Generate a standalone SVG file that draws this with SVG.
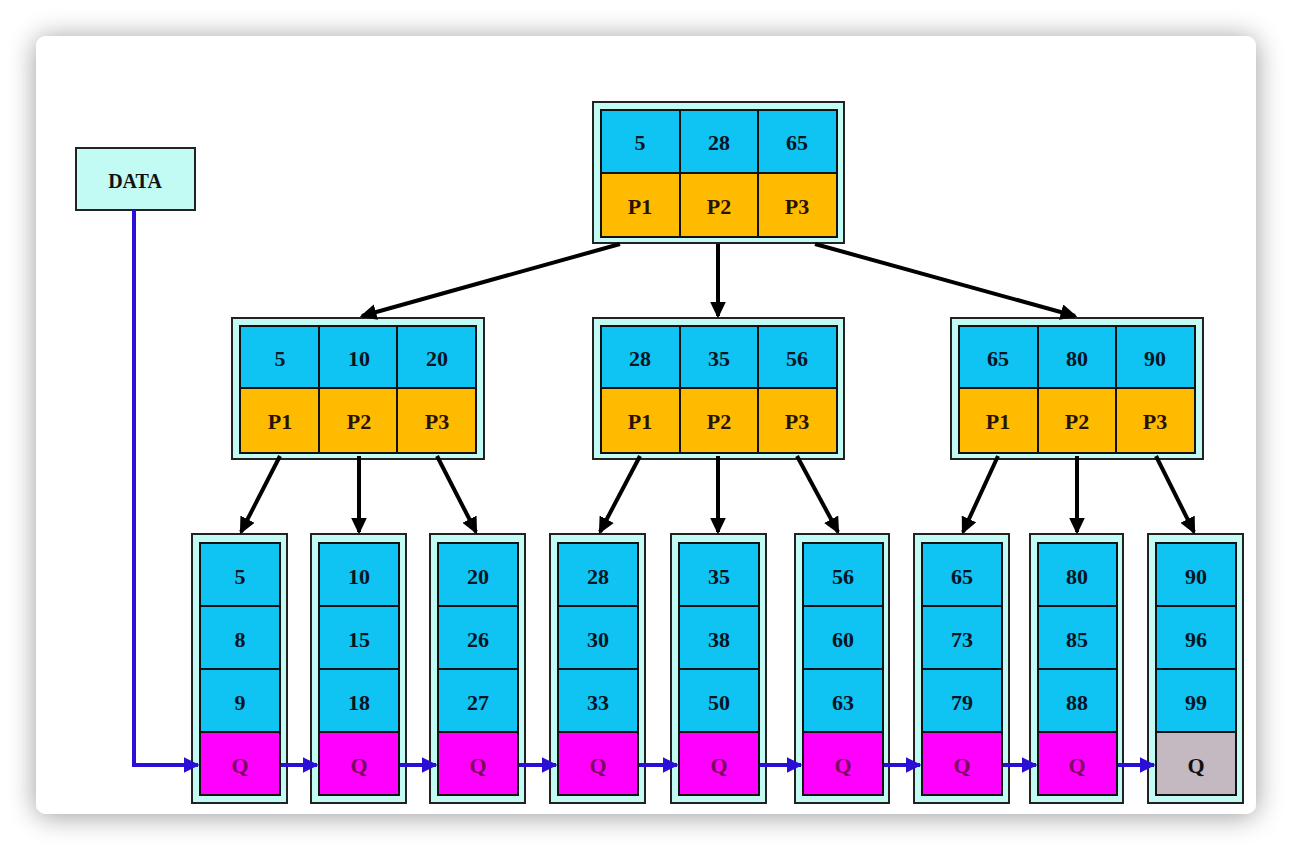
<svg xmlns="http://www.w3.org/2000/svg" width="1292" height="850" viewBox="0 0 1292 850">
<defs>
<filter id="sh" x="-10%" y="-10%" width="120%" height="120%">
<feGaussianBlur in="SourceAlpha" stdDeviation="14"/>
<feOffset dx="0" dy="2"/>
<feComponentTransfer><feFuncA type="linear" slope="0.4"/></feComponentTransfer>
<feMerge><feMergeNode/><feMergeNode in="SourceGraphic"/></feMerge>
</filter>
<marker id="ah" markerWidth="4.2" markerHeight="4" refX="3.6" refY="2" orient="auto" markerUnits="strokeWidth">
<path d="M0,0 L4.2,2 L0,4 z" fill="#000"/>
</marker>
<marker id="bh" markerWidth="4" markerHeight="4" refX="3.6" refY="2" orient="auto" markerUnits="strokeWidth">
<path d="M0,0 L4,2 L0,4 z" fill="#2a0fd6"/>
</marker>
</defs>
<style>
.outer{fill:#c2fbf4;stroke:#222;stroke-width:2}
.k{fill:#0fc3f2;stroke:#111;stroke-width:2}
.p{fill:#ffbb00;stroke:#111;stroke-width:2}
.q{fill:#ff00ff;stroke:#111;stroke-width:2}
.g{fill:#c4b9c0;stroke:#111;stroke-width:2}
.data{fill:#c2fbf4;stroke:#222;stroke-width:2}
text{font-family:"Liberation Serif","DejaVu Serif",serif;font-weight:bold;font-size:22px;text-anchor:middle;dominant-baseline:central;fill:#061424}
.pt{fill:#2a1200}
.qt{fill:#7a0a60}
.gt{fill:#111}
.ar{stroke:#000;stroke-width:4;fill:none;marker-end:url(#ah)}
.bl{stroke:#2a0fd6;stroke-width:4;fill:none;marker-end:url(#bh)}
</style>
<rect x="0" y="0" width="1292" height="850" fill="#ffffff"/>
<rect x="36" y="36" width="1220" height="778" rx="10" fill="#ffffff" filter="url(#sh)"/>

<g id="data">
<rect class="data" x="76" y="148" width="119" height="62"/>
<text x="135" y="181" style="fill:#111;font-size:20px">DATA</text>
</g>

<g id="root">
<rect class="outer" x="593" y="102" width="251" height="141"/>
<rect class="k" x="601" y="110" width="79" height="63"/><rect class="k" x="680" y="110" width="78" height="63"/><rect class="k" x="758" y="110" width="79" height="63"/>
<rect class="p" x="601" y="173" width="79" height="64"/><rect class="p" x="680" y="173" width="78" height="64"/><rect class="p" x="758" y="173" width="79" height="64"/>
<text x="640" y="142">5</text><text x="719" y="142">28</text><text x="797" y="142">65</text>
<text class="pt" x="640" y="206">P1</text><text class="pt" x="719" y="206">P2</text><text class="pt" x="797" y="206">P3</text>
</g>

<g id="n1">
<rect class="outer" x="232" y="318" width="252" height="141"/>
<rect class="k" x="240" y="326" width="79" height="62"/><rect class="k" x="319" y="326" width="78" height="62"/><rect class="k" x="397" y="326" width="79" height="62"/>
<rect class="p" x="240" y="388" width="79" height="65"/><rect class="p" x="319" y="388" width="78" height="65"/><rect class="p" x="397" y="388" width="79" height="65"/>
<text x="280" y="358">5</text><text x="359" y="358">10</text><text x="437" y="358">20</text>
<text class="pt" x="280" y="421">P1</text><text class="pt" x="359" y="421">P2</text><text class="pt" x="437" y="421">P3</text>
</g>

<g id="n2">
<rect class="outer" x="593" y="318" width="251" height="141"/>
<rect class="k" x="601" y="326" width="79" height="62"/><rect class="k" x="680" y="326" width="78" height="62"/><rect class="k" x="758" y="326" width="79" height="62"/>
<rect class="p" x="601" y="388" width="79" height="65"/><rect class="p" x="680" y="388" width="78" height="65"/><rect class="p" x="758" y="388" width="79" height="65"/>
<text x="640" y="358">28</text><text x="719" y="358">35</text><text x="797" y="358">56</text>
<text class="pt" x="640" y="421">P1</text><text class="pt" x="719" y="421">P2</text><text class="pt" x="797" y="421">P3</text>
</g>

<g id="n3">
<rect class="outer" x="951" y="318" width="252" height="141"/>
<rect class="k" x="959" y="326" width="79" height="62"/><rect class="k" x="1038" y="326" width="78" height="62"/><rect class="k" x="1116" y="326" width="79" height="62"/>
<rect class="p" x="959" y="388" width="79" height="65"/><rect class="p" x="1038" y="388" width="78" height="65"/><rect class="p" x="1116" y="388" width="79" height="65"/>
<text x="998" y="358">65</text><text x="1077" y="358">80</text><text x="1155" y="358">90</text>
<text class="pt" x="998" y="421">P1</text><text class="pt" x="1077" y="421">P2</text><text class="pt" x="1155" y="421">P3</text>
</g>

<g id="leaf1">
<rect class="outer" x="192" y="534" width="95" height="269"/>
<rect class="k" x="200" y="543" width="80" height="63"/><rect class="k" x="200" y="606" width="80" height="63"/><rect class="k" x="200" y="669" width="80" height="63"/><rect class="q" x="200" y="732" width="80" height="63"/>
<text x="240" y="576">5</text><text x="240" y="639">8</text><text x="240" y="702">9</text><text class="qt" x="240" y="765">Q</text>
</g>
<g id="leaf2">
<rect class="outer" x="311" y="534" width="95" height="269"/>
<rect class="k" x="319" y="543" width="80" height="63"/><rect class="k" x="319" y="606" width="80" height="63"/><rect class="k" x="319" y="669" width="80" height="63"/><rect class="q" x="319" y="732" width="80" height="63"/>
<text x="359" y="576">10</text><text x="359" y="639">15</text><text x="359" y="702">18</text><text class="qt" x="359" y="765">Q</text>
</g>
<g id="leaf3">
<rect class="outer" x="430" y="534" width="95" height="269"/>
<rect class="k" x="438" y="543" width="80" height="63"/><rect class="k" x="438" y="606" width="80" height="63"/><rect class="k" x="438" y="669" width="80" height="63"/><rect class="q" x="438" y="732" width="80" height="63"/>
<text x="478" y="576">20</text><text x="478" y="639">26</text><text x="478" y="702">27</text><text class="qt" x="478" y="765">Q</text>
</g>
<g id="leaf4">
<rect class="outer" x="550" y="534" width="95" height="269"/>
<rect class="k" x="558" y="543" width="80" height="63"/><rect class="k" x="558" y="606" width="80" height="63"/><rect class="k" x="558" y="669" width="80" height="63"/><rect class="q" x="558" y="732" width="80" height="63"/>
<text x="598" y="576">28</text><text x="598" y="639">30</text><text x="598" y="702">33</text><text class="qt" x="598" y="765">Q</text>
</g>
<g id="leaf5">
<rect class="outer" x="671" y="534" width="95" height="269"/>
<rect class="k" x="679" y="543" width="80" height="63"/><rect class="k" x="679" y="606" width="80" height="63"/><rect class="k" x="679" y="669" width="80" height="63"/><rect class="q" x="679" y="732" width="80" height="63"/>
<text x="719" y="576">35</text><text x="719" y="639">38</text><text x="719" y="702">50</text><text class="qt" x="719" y="765">Q</text>
</g>
<g id="leaf6">
<rect class="outer" x="795" y="534" width="94" height="269"/>
<rect class="k" x="803" y="543" width="80" height="63"/><rect class="k" x="803" y="606" width="80" height="63"/><rect class="k" x="803" y="669" width="80" height="63"/><rect class="q" x="803" y="732" width="80" height="63"/>
<text x="843" y="576">56</text><text x="843" y="639">60</text><text x="843" y="702">63</text><text class="qt" x="843" y="765">Q</text>
</g>
<g id="leaf7">
<rect class="outer" x="914" y="534" width="95" height="269"/>
<rect class="k" x="922" y="543" width="80" height="63"/><rect class="k" x="922" y="606" width="80" height="63"/><rect class="k" x="922" y="669" width="80" height="63"/><rect class="q" x="922" y="732" width="80" height="63"/>
<text x="962" y="576">65</text><text x="962" y="639">73</text><text x="962" y="702">79</text><text class="qt" x="962" y="765">Q</text>
</g>
<g id="leaf8">
<rect class="outer" x="1030" y="534" width="93" height="269"/>
<rect class="k" x="1038" y="543" width="79" height="63"/><rect class="k" x="1038" y="606" width="79" height="63"/><rect class="k" x="1038" y="669" width="79" height="63"/><rect class="q" x="1038" y="732" width="79" height="63"/>
<text x="1077" y="576">80</text><text x="1077" y="639">85</text><text x="1077" y="702">88</text><text class="qt" x="1077" y="765">Q</text>
</g>
<g id="leaf9">
<rect class="outer" x="1148" y="534" width="95" height="269"/>
<rect class="k" x="1156" y="543" width="80" height="63"/><rect class="k" x="1156" y="606" width="80" height="63"/><rect class="k" x="1156" y="669" width="80" height="63"/><rect class="g" x="1156" y="732" width="80" height="63"/>
<text x="1196" y="576">90</text><text x="1196" y="639">96</text><text x="1196" y="702">99</text><text class="gt" x="1196" y="765">Q</text>
</g>

<g id="connectors">
<line class="ar" x1="620" y1="244" x2="362" y2="316"/>
<line class="ar" x1="718" y1="244" x2="718" y2="316"/>
<line class="ar" x1="815" y1="244" x2="1075" y2="316"/>
<line class="ar" x1="280" y1="456" x2="241" y2="532"/>
<line class="ar" x1="359" y1="456" x2="359" y2="532"/>
<line class="ar" x1="437" y1="456" x2="476" y2="532"/>
<line class="ar" x1="640" y1="456" x2="600" y2="532"/>
<line class="ar" x1="718" y1="456" x2="718" y2="532"/>
<line class="ar" x1="797" y1="456" x2="838" y2="532"/>
<line class="ar" x1="998" y1="456" x2="963" y2="532"/>
<line class="ar" x1="1077" y1="456" x2="1077" y2="532"/>
<line class="ar" x1="1156" y1="456" x2="1194" y2="532"/>
<polyline class="bl" points="134,210 134,765 198,765"/>
<line class="bl" x1="281" y1="765" x2="317" y2="765"/>
<line class="bl" x1="400" y1="765" x2="436" y2="765"/>
<line class="bl" x1="519" y1="765" x2="556" y2="765"/>
<line class="bl" x1="639" y1="765" x2="677" y2="765"/>
<line class="bl" x1="760" y1="765" x2="801" y2="765"/>
<line class="bl" x1="884" y1="765" x2="920" y2="765"/>
<line class="bl" x1="1003" y1="765" x2="1036" y2="765"/>
<line class="bl" x1="1118" y1="765" x2="1154" y2="765"/>
</g>
</svg>
